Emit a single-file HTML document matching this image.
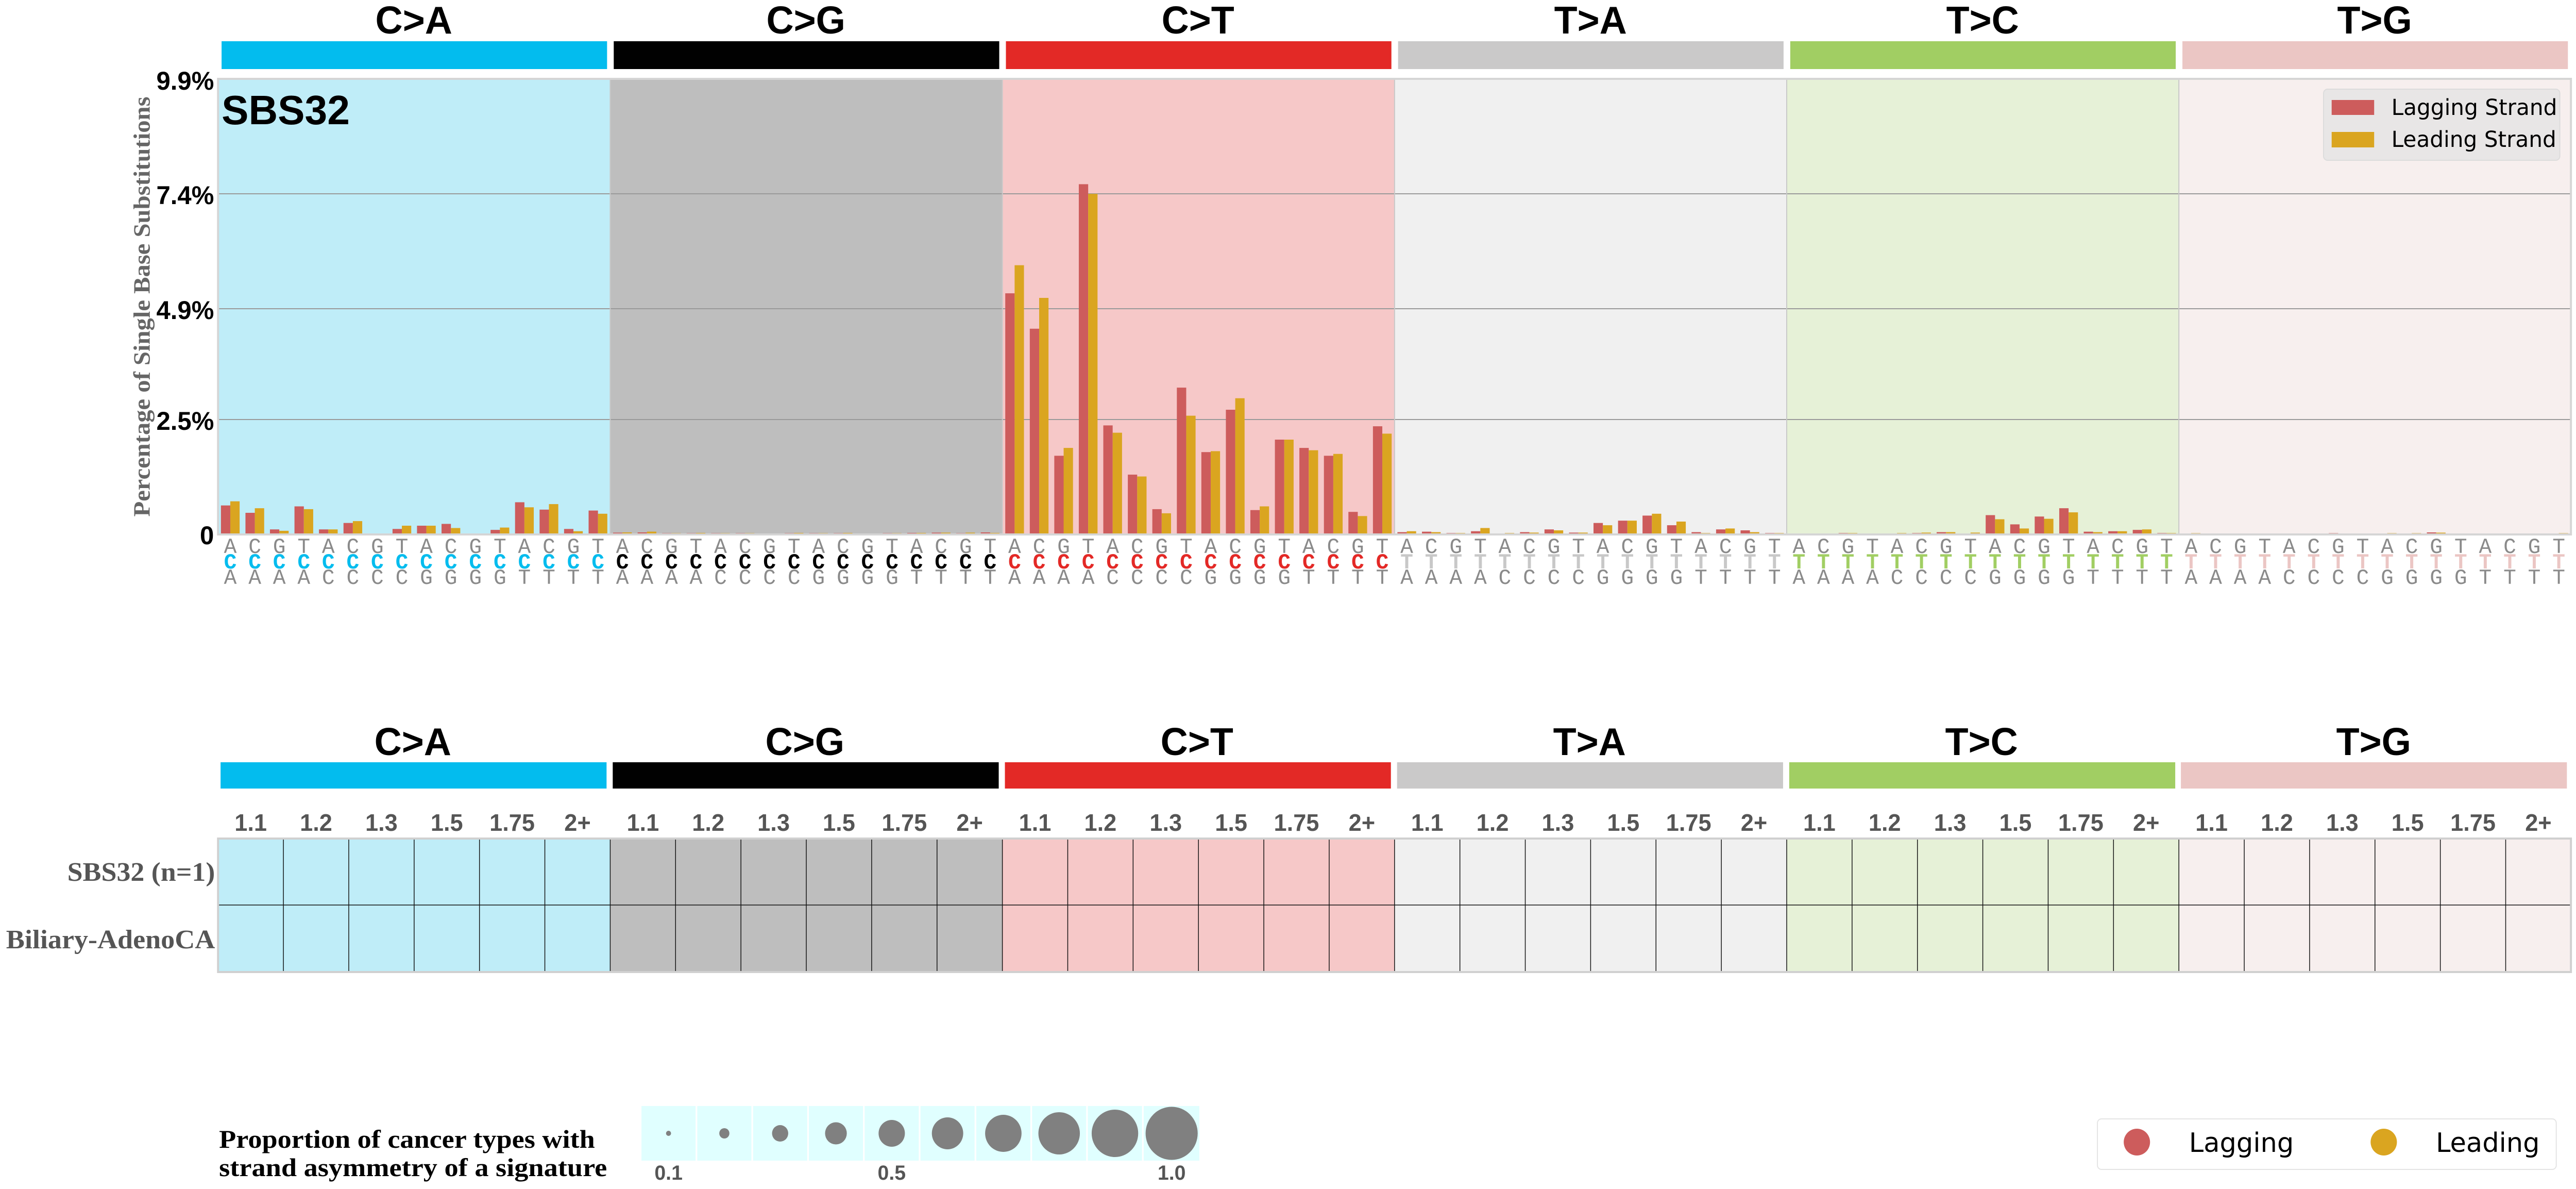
<!DOCTYPE html>
<html><head><meta charset="utf-8"><style>
html,body{margin:0;padding:0;background:#fff;overflow:hidden;width:100vw;height:100vh;}
svg{display:block;width:100vw;height:100vh;}
.m{font-weight:bold;}
.lb{font-family:"Liberation Mono","DejaVu Sans Mono",monospace;font-size:42px;fill:#8a8a8a;text-anchor:middle;}
.p0 .m{fill:#03bcee}.p1 .m{fill:#000}.p2 .m{fill:#e32926}.p3 .m{fill:#c8c8c8}.p4 .m{fill:#a1ce63}.p5 .m{fill:#ebc6c4}
.hd{font-family:"Liberation Sans",sans-serif;font-weight:bold;font-size:75px;fill:#000;text-anchor:middle;}
.yt{font-family:"Liberation Sans",sans-serif;font-weight:bold;font-size:50px;fill:#000;text-anchor:end;}
.tk{font-family:"Liberation Sans",sans-serif;font-weight:bold;font-size:46px;fill:#555;text-anchor:middle;}
.r{fill:#cd5c5c}.y{fill:#daa520}
</style></head><body>
<svg viewBox="0 0 5092 2307" preserveAspectRatio="none" xmlns="http://www.w3.org/2000/svg">
<rect width="5092" height="2307" fill="#fff"/>
<rect x="438" y="80" width="762" height="54" fill="#03bcee"/>
<rect x="1213.2" y="80" width="762" height="54" fill="#010101"/>
<rect x="1988.4" y="80" width="762" height="54" fill="#e32926"/>
<rect x="2763.6" y="80" width="762" height="54" fill="#cac9c9"/>
<rect x="3538.8" y="80" width="762" height="54" fill="#a1ce63"/>
<rect x="4314" y="80" width="762" height="54" fill="#ebc6c4"/>
<text class="hd" x="818" y="65">C&gt;A</text>
<text class="hd" x="1593" y="65">C&gt;G</text>
<text class="hd" x="2368" y="65">C&gt;T</text>
<text class="hd" x="3144" y="65">T&gt;A</text>
<text class="hd" x="3919" y="65">T&gt;C</text>
<text class="hd" x="4694" y="65">T&gt;G</text>
<rect x="431" y="153" width="775.2" height="884" fill="#bfedf8"/>
<rect x="1206.2" y="153" width="775.2" height="884" fill="#bebebe"/>
<rect x="1981.4" y="153" width="775.2" height="884" fill="#f6c8c8"/>
<rect x="2756.6" y="153" width="775.2" height="884" fill="#f0f0f0"/>
<rect x="3531.8" y="153" width="775.2" height="884" fill="#e6f1d7"/>
<rect x="4307" y="153" width="775" height="884" fill="#f7efee"/>
<path d="M431 814H5082M431 599H5082M431 376H5082" stroke="#9a9a9a" stroke-width="2"/>
<path d="M1206.2 153V1037M1981.4 153V1037M2756.6 153V1037M3531.8 153V1037M4307 153V1037" stroke="#c8c8c8" stroke-width="2"/>
<rect x="431" y="153" width="4651" height="884" fill="none" stroke="#d5d5d5" stroke-width="4"/>
<text class="yt" x="423" y="174">9.9%</text>
<text class="yt" x="423" y="396">7.4%</text>
<text class="yt" x="423" y="619">4.9%</text>
<text class="yt" x="423" y="834">2.5%</text>
<text class="yt" x="423" y="1056">0</text>
<g transform="translate(296,595) rotate(-90)"><text text-anchor="middle" textLength="815" lengthAdjust="spacingAndGlyphs" style="font-family:'Liberation Serif',serif;font-weight:bold;font-size:46px;fill:#666">Percentage of Single Base Substitutions</text></g>
<text x="438" y="241" style="font-family:'Liberation Sans',sans-serif;font-weight:bold;font-size:80px">SBS32</text>
<rect x="4593" y="173" width="467" height="138" rx="8" fill="#e8e6e6" stroke="#dcdcdc" stroke-width="2"/>
<rect x="4609" y="194" width="84" height="29" fill="#cd5c5c"/>
<rect x="4609" y="256" width="84" height="30" fill="#daa520"/>
<text x="4727" y="223" style="font-family:'DejaVu Sans',sans-serif;font-size:43px">Lagging Strand</text>
<text x="4727" y="285" style="font-family:'DejaVu Sans',sans-serif;font-size:43px">Leading Strand</text>

<g transform="translate(431,1037) scale(1,-1)">
<rect class="r" x="5.7" width="18.5" height="56.3"/><rect class="y" x="24.2" width="18.5" height="64.3"/>
<rect class="r" x="54.2" width="18.5" height="42"/><rect class="y" x="72.7" width="18.5" height="50.9"/>
<rect class="r" x="102.6" width="18.5" height="9.8"/><rect class="y" x="121.1" width="18.5" height="7.1"/>
<rect class="r" x="151.1" width="18.5" height="54.5"/><rect class="y" x="169.6" width="18.5" height="49.1"/>
<rect class="r" x="199.5" width="18.5" height="9.8"/><rect class="y" x="218" width="18.5" height="9.8"/>
<rect class="r" x="248" width="18.5" height="22.3"/><rect class="y" x="266.5" width="18.5" height="25.9"/>
<rect class="r" x="296.4" width="18.5" height="1"/><rect class="y" x="314.9" width="18.5" height="1"/>
<rect class="r" x="344.9" width="18.5" height="10.7"/><rect class="y" x="363.4" width="18.5" height="17"/>
<rect class="r" x="393.3" width="18.5" height="17"/><rect class="y" x="411.8" width="18.5" height="17"/>
<rect class="r" x="441.8" width="18.5" height="20.5"/><rect class="y" x="460.3" width="18.5" height="12.5"/>
<rect class="r" x="490.2" width="18.5" height="1.8"/><rect class="y" x="508.7" width="18.5" height="1.8"/>
<rect class="r" x="538.7" width="18.5" height="8.9"/><rect class="y" x="557.2" width="18.5" height="13.4"/>
<rect class="r" x="587.1" width="18.5" height="62.5"/><rect class="y" x="605.6" width="18.5" height="52.7"/>
<rect class="r" x="635.6" width="18.5" height="48.2"/><rect class="y" x="654.1" width="18.5" height="58.9"/>
<rect class="r" x="684" width="18.5" height="10.7"/><rect class="y" x="702.5" width="18.5" height="6.3"/>
<rect class="r" x="732.5" width="18.5" height="46.4"/><rect class="y" x="751" width="18.5" height="40.2"/>
</g>
<g transform="translate(1206.2,1037) scale(1,-1)">
<rect class="r" x="5.7" width="18.5" height="3.5"/><rect class="y" x="24.2" width="18.5" height="4"/>
<rect class="r" x="54.2" width="18.5" height="4"/><rect class="y" x="72.7" width="18.5" height="5.5"/>
<rect class="r" x="102.6" width="18.5" height="2.5"/><rect class="y" x="121.1" width="18.5" height="2.5"/>
<rect class="r" x="151.1" width="18.5" height="2.5"/><rect class="y" x="169.6" width="18.5" height="3"/>
<rect class="r" x="199.5" width="18.5" height="2.5"/><rect class="y" x="218" width="18.5" height="2.5"/>
<rect class="r" x="248" width="18.5" height="2.5"/><rect class="y" x="266.5" width="18.5" height="2.5"/>
<rect class="r" x="296.4" width="18.5" height="2"/><rect class="y" x="314.9" width="18.5" height="2"/>
<rect class="r" x="344.9" width="18.5" height="2.5"/><rect class="y" x="363.4" width="18.5" height="3"/>
<rect class="r" x="393.3" width="18.5" height="2.5"/><rect class="y" x="411.8" width="18.5" height="2.5"/>
<rect class="r" x="441.8" width="18.5" height="2.5"/><rect class="y" x="460.3" width="18.5" height="3"/>
<rect class="r" x="490.2" width="18.5" height="2"/><rect class="y" x="508.7" width="18.5" height="2"/>
<rect class="r" x="538.7" width="18.5" height="2.5"/><rect class="y" x="557.2" width="18.5" height="2.5"/>
<rect class="r" x="587.1" width="18.5" height="3"/><rect class="y" x="605.6" width="18.5" height="3"/>
<rect class="r" x="635.6" width="18.5" height="3.5"/><rect class="y" x="654.1" width="18.5" height="3.5"/>
<rect class="r" x="684" width="18.5" height="2.5"/><rect class="y" x="702.5" width="18.5" height="3.5"/>
<rect class="r" x="732.5" width="18.5" height="4"/><rect class="y" x="751" width="18.5" height="3"/>
</g>
<g transform="translate(1981.4,1037) scale(1,-1)">
<rect class="r" x="5.7" width="18.5" height="467.9"/><rect class="y" x="24.2" width="18.5" height="522.4"/>
<rect class="r" x="54.2" width="18.5" height="399.2"/><rect class="y" x="72.7" width="18.5" height="459"/>
<rect class="r" x="102.6" width="18.5" height="152.7"/><rect class="y" x="121.1" width="18.5" height="167.9"/>
<rect class="r" x="151.1" width="18.5" height="679.6"/><rect class="y" x="169.6" width="18.5" height="660.8"/>
<rect class="r" x="199.5" width="18.5" height="211.6"/><rect class="y" x="218" width="18.5" height="197.4"/>
<rect class="r" x="248" width="18.5" height="116.1"/><rect class="y" x="266.5" width="18.5" height="112.5"/>
<rect class="r" x="296.4" width="18.5" height="49.1"/><rect class="y" x="314.9" width="18.5" height="41.1"/>
<rect class="r" x="344.9" width="18.5" height="284.9"/><rect class="y" x="363.4" width="18.5" height="230.4"/>
<rect class="r" x="393.3" width="18.5" height="159.8"/><rect class="y" x="411.8" width="18.5" height="161.6"/>
<rect class="r" x="441.8" width="18.5" height="242"/><rect class="y" x="460.3" width="18.5" height="264.3"/>
<rect class="r" x="490.2" width="18.5" height="47.3"/><rect class="y" x="508.7" width="18.5" height="54.5"/>
<rect class="r" x="538.7" width="18.5" height="184"/><rect class="y" x="557.2" width="18.5" height="184"/>
<rect class="r" x="587.1" width="18.5" height="167.9"/><rect class="y" x="605.6" width="18.5" height="163.4"/>
<rect class="r" x="635.6" width="18.5" height="152.7"/><rect class="y" x="654.1" width="18.5" height="156.3"/>
<rect class="r" x="684" width="18.5" height="43.8"/><rect class="y" x="702.5" width="18.5" height="35.7"/>
<rect class="r" x="732.5" width="18.5" height="209.9"/><rect class="y" x="751" width="18.5" height="195.6"/>
</g>
<g transform="translate(2756.6,1037) scale(1,-1)">
<rect class="r" x="5.7" width="18.5" height="4.5"/><rect class="y" x="24.2" width="18.5" height="6.3"/>
<rect class="r" x="54.2" width="18.5" height="5.4"/><rect class="y" x="72.7" width="18.5" height="4.5"/>
<rect class="r" x="102.6" width="18.5" height="2.7"/><rect class="y" x="121.1" width="18.5" height="2.7"/>
<rect class="r" x="151.1" width="18.5" height="6.3"/><rect class="y" x="169.6" width="18.5" height="12.5"/>
<rect class="r" x="199.5" width="18.5" height="1.8"/><rect class="y" x="218" width="18.5" height="2.7"/>
<rect class="r" x="248" width="18.5" height="4.5"/><rect class="y" x="266.5" width="18.5" height="3.6"/>
<rect class="r" x="296.4" width="18.5" height="9.8"/><rect class="y" x="314.9" width="18.5" height="8"/>
<rect class="r" x="344.9" width="18.5" height="3.6"/><rect class="y" x="363.4" width="18.5" height="3.6"/>
<rect class="r" x="393.3" width="18.5" height="22.3"/><rect class="y" x="411.8" width="18.5" height="17.9"/>
<rect class="r" x="441.8" width="18.5" height="26.8"/><rect class="y" x="460.3" width="18.5" height="26.8"/>
<rect class="r" x="490.2" width="18.5" height="36.6"/><rect class="y" x="508.7" width="18.5" height="40.2"/>
<rect class="r" x="538.7" width="18.5" height="17.9"/><rect class="y" x="557.2" width="18.5" height="25"/>
<rect class="r" x="587.1" width="18.5" height="4.5"/><rect class="y" x="605.6" width="18.5" height="2.7"/>
<rect class="r" x="635.6" width="18.5" height="9.8"/><rect class="y" x="654.1" width="18.5" height="11.6"/>
<rect class="r" x="684" width="18.5" height="8"/><rect class="y" x="702.5" width="18.5" height="4.5"/>
<rect class="r" x="732.5" width="18.5" height="2.7"/><rect class="y" x="751" width="18.5" height="2.7"/>
</g>
<g transform="translate(3531.8,1037) scale(1,-1)">
<rect class="r" x="5.7" width="18.5" height="1.8"/><rect class="y" x="24.2" width="18.5" height="1.8"/>
<rect class="r" x="54.2" width="18.5" height="1.8"/><rect class="y" x="72.7" width="18.5" height="1.8"/>
<rect class="r" x="102.6" width="18.5" height="2.7"/><rect class="y" x="121.1" width="18.5" height="2.7"/>
<rect class="r" x="151.1" width="18.5" height="1.8"/><rect class="y" x="169.6" width="18.5" height="1.8"/>
<rect class="r" x="199.5" width="18.5" height="1.8"/><rect class="y" x="218" width="18.5" height="2.7"/>
<rect class="r" x="248" width="18.5" height="2.7"/><rect class="y" x="266.5" width="18.5" height="3.6"/>
<rect class="r" x="296.4" width="18.5" height="4.5"/><rect class="y" x="314.9" width="18.5" height="4.5"/>
<rect class="r" x="344.9" width="18.5" height="1.8"/><rect class="y" x="363.4" width="18.5" height="3.6"/>
<rect class="r" x="393.3" width="18.5" height="37.5"/><rect class="y" x="411.8" width="18.5" height="29.5"/>
<rect class="r" x="441.8" width="18.5" height="19.6"/><rect class="y" x="460.3" width="18.5" height="11.6"/>
<rect class="r" x="490.2" width="18.5" height="34.8"/><rect class="y" x="508.7" width="18.5" height="30.4"/>
<rect class="r" x="538.7" width="18.5" height="50.9"/><rect class="y" x="557.2" width="18.5" height="42.9"/>
<rect class="r" x="587.1" width="18.5" height="5.4"/><rect class="y" x="605.6" width="18.5" height="4.5"/>
<rect class="r" x="635.6" width="18.5" height="6.3"/><rect class="y" x="654.1" width="18.5" height="6.3"/>
<rect class="r" x="684" width="18.5" height="8.9"/><rect class="y" x="702.5" width="18.5" height="9.8"/>
<rect class="r" x="732.5" width="18.5" height="2.7"/><rect class="y" x="751" width="18.5" height="2.7"/>
</g>
<g transform="translate(4307,1037) scale(1,-1)">
<rect class="r" x="5.7" width="18.5" height="2"/><rect class="y" x="24.2" width="18.5" height="2.5"/>
<rect class="r" x="54.2" width="18.5" height="2"/><rect class="y" x="72.7" width="18.5" height="2"/>
<rect class="r" x="102.6" width="18.5" height="1.5"/><rect class="y" x="121.1" width="18.5" height="1.5"/>
<rect class="r" x="151.1" width="18.5" height="1.5"/><rect class="y" x="169.6" width="18.5" height="1.5"/>
<rect class="r" x="199.5" width="18.5" height="1.5"/><rect class="y" x="218" width="18.5" height="2"/>
<rect class="r" x="248" width="18.5" height="2"/><rect class="y" x="266.5" width="18.5" height="2"/>
<rect class="r" x="296.4" width="18.5" height="2.5"/><rect class="y" x="314.9" width="18.5" height="2"/>
<rect class="r" x="344.9" width="18.5" height="2"/><rect class="y" x="363.4" width="18.5" height="2"/>
<rect class="r" x="393.3" width="18.5" height="2"/><rect class="y" x="411.8" width="18.5" height="2.5"/>
<rect class="r" x="441.8" width="18.5" height="2"/><rect class="y" x="460.3" width="18.5" height="2.5"/>
<rect class="r" x="490.2" width="18.5" height="4"/><rect class="y" x="508.7" width="18.5" height="3.5"/>
<rect class="r" x="538.7" width="18.5" height="2"/><rect class="y" x="557.2" width="18.5" height="2"/>
<rect class="r" x="587.1" width="18.5" height="1.5"/><rect class="y" x="605.6" width="18.5" height="1.5"/>
<rect class="r" x="635.6" width="18.5" height="1.5"/><rect class="y" x="654.1" width="18.5" height="1.5"/>
<rect class="r" x="684" width="18.5" height="1.5"/><rect class="y" x="702.5" width="18.5" height="2"/>
<rect class="r" x="732.5" width="18.5" height="2"/><rect class="y" x="751" width="18.5" height="2.5"/>
</g>
<path d="M431 1037H5082" stroke="#d5d5d5" stroke-width="4"/>

<g class="lb p0" transform="translate(431,0)">
<text y="1133"><tspan x="24.2">A</tspan><tspan x="24.2" dy="-30" class="m">C</tspan><tspan x="24.2" dy="-30">A</tspan></text>
<text y="1133"><tspan x="72.7">A</tspan><tspan x="72.7" dy="-30" class="m">C</tspan><tspan x="72.7" dy="-30">C</tspan></text>
<text y="1133"><tspan x="121.1">A</tspan><tspan x="121.1" dy="-30" class="m">C</tspan><tspan x="121.1" dy="-30">G</tspan></text>
<text y="1133"><tspan x="169.6">A</tspan><tspan x="169.6" dy="-30" class="m">C</tspan><tspan x="169.6" dy="-30">T</tspan></text>
<text y="1133"><tspan x="218">C</tspan><tspan x="218" dy="-30" class="m">C</tspan><tspan x="218" dy="-30">A</tspan></text>
<text y="1133"><tspan x="266.5">C</tspan><tspan x="266.5" dy="-30" class="m">C</tspan><tspan x="266.5" dy="-30">C</tspan></text>
<text y="1133"><tspan x="314.9">C</tspan><tspan x="314.9" dy="-30" class="m">C</tspan><tspan x="314.9" dy="-30">G</tspan></text>
<text y="1133"><tspan x="363.4">C</tspan><tspan x="363.4" dy="-30" class="m">C</tspan><tspan x="363.4" dy="-30">T</tspan></text>
<text y="1133"><tspan x="411.8">G</tspan><tspan x="411.8" dy="-30" class="m">C</tspan><tspan x="411.8" dy="-30">A</tspan></text>
<text y="1133"><tspan x="460.3">G</tspan><tspan x="460.3" dy="-30" class="m">C</tspan><tspan x="460.3" dy="-30">C</tspan></text>
<text y="1133"><tspan x="508.7">G</tspan><tspan x="508.7" dy="-30" class="m">C</tspan><tspan x="508.7" dy="-30">G</tspan></text>
<text y="1133"><tspan x="557.2">G</tspan><tspan x="557.2" dy="-30" class="m">C</tspan><tspan x="557.2" dy="-30">T</tspan></text>
<text y="1133"><tspan x="605.6">T</tspan><tspan x="605.6" dy="-30" class="m">C</tspan><tspan x="605.6" dy="-30">A</tspan></text>
<text y="1133"><tspan x="654.1">T</tspan><tspan x="654.1" dy="-30" class="m">C</tspan><tspan x="654.1" dy="-30">C</tspan></text>
<text y="1133"><tspan x="702.5">T</tspan><tspan x="702.5" dy="-30" class="m">C</tspan><tspan x="702.5" dy="-30">G</tspan></text>
<text y="1133"><tspan x="751">T</tspan><tspan x="751" dy="-30" class="m">C</tspan><tspan x="751" dy="-30">T</tspan></text>
</g>
<g class="lb p1" transform="translate(1206.2,0)">
<text y="1133"><tspan x="24.2">A</tspan><tspan x="24.2" dy="-30" class="m">C</tspan><tspan x="24.2" dy="-30">A</tspan></text>
<text y="1133"><tspan x="72.7">A</tspan><tspan x="72.7" dy="-30" class="m">C</tspan><tspan x="72.7" dy="-30">C</tspan></text>
<text y="1133"><tspan x="121.1">A</tspan><tspan x="121.1" dy="-30" class="m">C</tspan><tspan x="121.1" dy="-30">G</tspan></text>
<text y="1133"><tspan x="169.6">A</tspan><tspan x="169.6" dy="-30" class="m">C</tspan><tspan x="169.6" dy="-30">T</tspan></text>
<text y="1133"><tspan x="218">C</tspan><tspan x="218" dy="-30" class="m">C</tspan><tspan x="218" dy="-30">A</tspan></text>
<text y="1133"><tspan x="266.5">C</tspan><tspan x="266.5" dy="-30" class="m">C</tspan><tspan x="266.5" dy="-30">C</tspan></text>
<text y="1133"><tspan x="314.9">C</tspan><tspan x="314.9" dy="-30" class="m">C</tspan><tspan x="314.9" dy="-30">G</tspan></text>
<text y="1133"><tspan x="363.4">C</tspan><tspan x="363.4" dy="-30" class="m">C</tspan><tspan x="363.4" dy="-30">T</tspan></text>
<text y="1133"><tspan x="411.8">G</tspan><tspan x="411.8" dy="-30" class="m">C</tspan><tspan x="411.8" dy="-30">A</tspan></text>
<text y="1133"><tspan x="460.3">G</tspan><tspan x="460.3" dy="-30" class="m">C</tspan><tspan x="460.3" dy="-30">C</tspan></text>
<text y="1133"><tspan x="508.7">G</tspan><tspan x="508.7" dy="-30" class="m">C</tspan><tspan x="508.7" dy="-30">G</tspan></text>
<text y="1133"><tspan x="557.2">G</tspan><tspan x="557.2" dy="-30" class="m">C</tspan><tspan x="557.2" dy="-30">T</tspan></text>
<text y="1133"><tspan x="605.6">T</tspan><tspan x="605.6" dy="-30" class="m">C</tspan><tspan x="605.6" dy="-30">A</tspan></text>
<text y="1133"><tspan x="654.1">T</tspan><tspan x="654.1" dy="-30" class="m">C</tspan><tspan x="654.1" dy="-30">C</tspan></text>
<text y="1133"><tspan x="702.5">T</tspan><tspan x="702.5" dy="-30" class="m">C</tspan><tspan x="702.5" dy="-30">G</tspan></text>
<text y="1133"><tspan x="751">T</tspan><tspan x="751" dy="-30" class="m">C</tspan><tspan x="751" dy="-30">T</tspan></text>
</g>
<g class="lb p2" transform="translate(1981.4,0)">
<text y="1133"><tspan x="24.2">A</tspan><tspan x="24.2" dy="-30" class="m">C</tspan><tspan x="24.2" dy="-30">A</tspan></text>
<text y="1133"><tspan x="72.7">A</tspan><tspan x="72.7" dy="-30" class="m">C</tspan><tspan x="72.7" dy="-30">C</tspan></text>
<text y="1133"><tspan x="121.1">A</tspan><tspan x="121.1" dy="-30" class="m">C</tspan><tspan x="121.1" dy="-30">G</tspan></text>
<text y="1133"><tspan x="169.6">A</tspan><tspan x="169.6" dy="-30" class="m">C</tspan><tspan x="169.6" dy="-30">T</tspan></text>
<text y="1133"><tspan x="218">C</tspan><tspan x="218" dy="-30" class="m">C</tspan><tspan x="218" dy="-30">A</tspan></text>
<text y="1133"><tspan x="266.5">C</tspan><tspan x="266.5" dy="-30" class="m">C</tspan><tspan x="266.5" dy="-30">C</tspan></text>
<text y="1133"><tspan x="314.9">C</tspan><tspan x="314.9" dy="-30" class="m">C</tspan><tspan x="314.9" dy="-30">G</tspan></text>
<text y="1133"><tspan x="363.4">C</tspan><tspan x="363.4" dy="-30" class="m">C</tspan><tspan x="363.4" dy="-30">T</tspan></text>
<text y="1133"><tspan x="411.8">G</tspan><tspan x="411.8" dy="-30" class="m">C</tspan><tspan x="411.8" dy="-30">A</tspan></text>
<text y="1133"><tspan x="460.3">G</tspan><tspan x="460.3" dy="-30" class="m">C</tspan><tspan x="460.3" dy="-30">C</tspan></text>
<text y="1133"><tspan x="508.7">G</tspan><tspan x="508.7" dy="-30" class="m">C</tspan><tspan x="508.7" dy="-30">G</tspan></text>
<text y="1133"><tspan x="557.2">G</tspan><tspan x="557.2" dy="-30" class="m">C</tspan><tspan x="557.2" dy="-30">T</tspan></text>
<text y="1133"><tspan x="605.6">T</tspan><tspan x="605.6" dy="-30" class="m">C</tspan><tspan x="605.6" dy="-30">A</tspan></text>
<text y="1133"><tspan x="654.1">T</tspan><tspan x="654.1" dy="-30" class="m">C</tspan><tspan x="654.1" dy="-30">C</tspan></text>
<text y="1133"><tspan x="702.5">T</tspan><tspan x="702.5" dy="-30" class="m">C</tspan><tspan x="702.5" dy="-30">G</tspan></text>
<text y="1133"><tspan x="751">T</tspan><tspan x="751" dy="-30" class="m">C</tspan><tspan x="751" dy="-30">T</tspan></text>
</g>
<g class="lb p3" transform="translate(2756.6,0)">
<text y="1133"><tspan x="24.2">A</tspan><tspan x="24.2" dy="-30" class="m">T</tspan><tspan x="24.2" dy="-30">A</tspan></text>
<text y="1133"><tspan x="72.7">A</tspan><tspan x="72.7" dy="-30" class="m">T</tspan><tspan x="72.7" dy="-30">C</tspan></text>
<text y="1133"><tspan x="121.1">A</tspan><tspan x="121.1" dy="-30" class="m">T</tspan><tspan x="121.1" dy="-30">G</tspan></text>
<text y="1133"><tspan x="169.6">A</tspan><tspan x="169.6" dy="-30" class="m">T</tspan><tspan x="169.6" dy="-30">T</tspan></text>
<text y="1133"><tspan x="218">C</tspan><tspan x="218" dy="-30" class="m">T</tspan><tspan x="218" dy="-30">A</tspan></text>
<text y="1133"><tspan x="266.5">C</tspan><tspan x="266.5" dy="-30" class="m">T</tspan><tspan x="266.5" dy="-30">C</tspan></text>
<text y="1133"><tspan x="314.9">C</tspan><tspan x="314.9" dy="-30" class="m">T</tspan><tspan x="314.9" dy="-30">G</tspan></text>
<text y="1133"><tspan x="363.4">C</tspan><tspan x="363.4" dy="-30" class="m">T</tspan><tspan x="363.4" dy="-30">T</tspan></text>
<text y="1133"><tspan x="411.8">G</tspan><tspan x="411.8" dy="-30" class="m">T</tspan><tspan x="411.8" dy="-30">A</tspan></text>
<text y="1133"><tspan x="460.3">G</tspan><tspan x="460.3" dy="-30" class="m">T</tspan><tspan x="460.3" dy="-30">C</tspan></text>
<text y="1133"><tspan x="508.7">G</tspan><tspan x="508.7" dy="-30" class="m">T</tspan><tspan x="508.7" dy="-30">G</tspan></text>
<text y="1133"><tspan x="557.2">G</tspan><tspan x="557.2" dy="-30" class="m">T</tspan><tspan x="557.2" dy="-30">T</tspan></text>
<text y="1133"><tspan x="605.6">T</tspan><tspan x="605.6" dy="-30" class="m">T</tspan><tspan x="605.6" dy="-30">A</tspan></text>
<text y="1133"><tspan x="654.1">T</tspan><tspan x="654.1" dy="-30" class="m">T</tspan><tspan x="654.1" dy="-30">C</tspan></text>
<text y="1133"><tspan x="702.5">T</tspan><tspan x="702.5" dy="-30" class="m">T</tspan><tspan x="702.5" dy="-30">G</tspan></text>
<text y="1133"><tspan x="751">T</tspan><tspan x="751" dy="-30" class="m">T</tspan><tspan x="751" dy="-30">T</tspan></text>
</g>
<g class="lb p4" transform="translate(3531.8,0)">
<text y="1133"><tspan x="24.2">A</tspan><tspan x="24.2" dy="-30" class="m">T</tspan><tspan x="24.2" dy="-30">A</tspan></text>
<text y="1133"><tspan x="72.7">A</tspan><tspan x="72.7" dy="-30" class="m">T</tspan><tspan x="72.7" dy="-30">C</tspan></text>
<text y="1133"><tspan x="121.1">A</tspan><tspan x="121.1" dy="-30" class="m">T</tspan><tspan x="121.1" dy="-30">G</tspan></text>
<text y="1133"><tspan x="169.6">A</tspan><tspan x="169.6" dy="-30" class="m">T</tspan><tspan x="169.6" dy="-30">T</tspan></text>
<text y="1133"><tspan x="218">C</tspan><tspan x="218" dy="-30" class="m">T</tspan><tspan x="218" dy="-30">A</tspan></text>
<text y="1133"><tspan x="266.5">C</tspan><tspan x="266.5" dy="-30" class="m">T</tspan><tspan x="266.5" dy="-30">C</tspan></text>
<text y="1133"><tspan x="314.9">C</tspan><tspan x="314.9" dy="-30" class="m">T</tspan><tspan x="314.9" dy="-30">G</tspan></text>
<text y="1133"><tspan x="363.4">C</tspan><tspan x="363.4" dy="-30" class="m">T</tspan><tspan x="363.4" dy="-30">T</tspan></text>
<text y="1133"><tspan x="411.8">G</tspan><tspan x="411.8" dy="-30" class="m">T</tspan><tspan x="411.8" dy="-30">A</tspan></text>
<text y="1133"><tspan x="460.3">G</tspan><tspan x="460.3" dy="-30" class="m">T</tspan><tspan x="460.3" dy="-30">C</tspan></text>
<text y="1133"><tspan x="508.7">G</tspan><tspan x="508.7" dy="-30" class="m">T</tspan><tspan x="508.7" dy="-30">G</tspan></text>
<text y="1133"><tspan x="557.2">G</tspan><tspan x="557.2" dy="-30" class="m">T</tspan><tspan x="557.2" dy="-30">T</tspan></text>
<text y="1133"><tspan x="605.6">T</tspan><tspan x="605.6" dy="-30" class="m">T</tspan><tspan x="605.6" dy="-30">A</tspan></text>
<text y="1133"><tspan x="654.1">T</tspan><tspan x="654.1" dy="-30" class="m">T</tspan><tspan x="654.1" dy="-30">C</tspan></text>
<text y="1133"><tspan x="702.5">T</tspan><tspan x="702.5" dy="-30" class="m">T</tspan><tspan x="702.5" dy="-30">G</tspan></text>
<text y="1133"><tspan x="751">T</tspan><tspan x="751" dy="-30" class="m">T</tspan><tspan x="751" dy="-30">T</tspan></text>
</g>
<g class="lb p5" transform="translate(4307,0)">
<text y="1133"><tspan x="24.2">A</tspan><tspan x="24.2" dy="-30" class="m">T</tspan><tspan x="24.2" dy="-30">A</tspan></text>
<text y="1133"><tspan x="72.7">A</tspan><tspan x="72.7" dy="-30" class="m">T</tspan><tspan x="72.7" dy="-30">C</tspan></text>
<text y="1133"><tspan x="121.1">A</tspan><tspan x="121.1" dy="-30" class="m">T</tspan><tspan x="121.1" dy="-30">G</tspan></text>
<text y="1133"><tspan x="169.6">A</tspan><tspan x="169.6" dy="-30" class="m">T</tspan><tspan x="169.6" dy="-30">T</tspan></text>
<text y="1133"><tspan x="218">C</tspan><tspan x="218" dy="-30" class="m">T</tspan><tspan x="218" dy="-30">A</tspan></text>
<text y="1133"><tspan x="266.5">C</tspan><tspan x="266.5" dy="-30" class="m">T</tspan><tspan x="266.5" dy="-30">C</tspan></text>
<text y="1133"><tspan x="314.9">C</tspan><tspan x="314.9" dy="-30" class="m">T</tspan><tspan x="314.9" dy="-30">G</tspan></text>
<text y="1133"><tspan x="363.4">C</tspan><tspan x="363.4" dy="-30" class="m">T</tspan><tspan x="363.4" dy="-30">T</tspan></text>
<text y="1133"><tspan x="411.8">G</tspan><tspan x="411.8" dy="-30" class="m">T</tspan><tspan x="411.8" dy="-30">A</tspan></text>
<text y="1133"><tspan x="460.3">G</tspan><tspan x="460.3" dy="-30" class="m">T</tspan><tspan x="460.3" dy="-30">C</tspan></text>
<text y="1133"><tspan x="508.7">G</tspan><tspan x="508.7" dy="-30" class="m">T</tspan><tspan x="508.7" dy="-30">G</tspan></text>
<text y="1133"><tspan x="557.2">G</tspan><tspan x="557.2" dy="-30" class="m">T</tspan><tspan x="557.2" dy="-30">T</tspan></text>
<text y="1133"><tspan x="605.6">T</tspan><tspan x="605.6" dy="-30" class="m">T</tspan><tspan x="605.6" dy="-30">A</tspan></text>
<text y="1133"><tspan x="654.1">T</tspan><tspan x="654.1" dy="-30" class="m">T</tspan><tspan x="654.1" dy="-30">C</tspan></text>
<text y="1133"><tspan x="702.5">T</tspan><tspan x="702.5" dy="-30" class="m">T</tspan><tspan x="702.5" dy="-30">G</tspan></text>
<text y="1133"><tspan x="751">T</tspan><tspan x="751" dy="-30" class="m">T</tspan><tspan x="751" dy="-30">T</tspan></text>
</g>

<rect x="436" y="1479" width="763" height="51" fill="#03bcee"/>
<rect x="1211.2" y="1479" width="763" height="51" fill="#010101"/>
<rect x="1986.4" y="1479" width="763" height="51" fill="#e32926"/>
<rect x="2761.6" y="1479" width="763" height="51" fill="#cac9c9"/>
<rect x="3536.8" y="1479" width="763" height="51" fill="#a1ce63"/>
<rect x="4311" y="1479" width="763" height="51" fill="#ebc6c4"/>
<text class="hd" x="816" y="1465">C&gt;A</text>
<text class="hd" x="1591" y="1465">C&gt;G</text>
<text class="hd" x="2366" y="1465">C&gt;T</text>
<text class="hd" x="3142" y="1465">T&gt;A</text>
<text class="hd" x="3917" y="1465">T&gt;C</text>
<text class="hd" x="4692" y="1465">T&gt;G</text>
<g class="tk">
<g transform="translate(431,1612)"><text x="64.6">1.1</text><text x="193.8">1.2</text><text x="323">1.3</text><text x="452.2">1.5</text><text x="581.4">1.75</text><text x="710.6">2+</text></g>
<g transform="translate(1206.2,1612)"><text x="64.6">1.1</text><text x="193.8">1.2</text><text x="323">1.3</text><text x="452.2">1.5</text><text x="581.4">1.75</text><text x="710.6">2+</text></g>
<g transform="translate(1981.4,1612)"><text x="64.6">1.1</text><text x="193.8">1.2</text><text x="323">1.3</text><text x="452.2">1.5</text><text x="581.4">1.75</text><text x="710.6">2+</text></g>
<g transform="translate(2756.6,1612)"><text x="64.6">1.1</text><text x="193.8">1.2</text><text x="323">1.3</text><text x="452.2">1.5</text><text x="581.4">1.75</text><text x="710.6">2+</text></g>
<g transform="translate(3531.8,1612)"><text x="64.6">1.1</text><text x="193.8">1.2</text><text x="323">1.3</text><text x="452.2">1.5</text><text x="581.4">1.75</text><text x="710.6">2+</text></g>
<g transform="translate(4307,1612)"><text x="64.6">1.1</text><text x="193.8">1.2</text><text x="323">1.3</text><text x="452.2">1.5</text><text x="581.4">1.75</text><text x="710.6">2+</text></g>
</g>
<rect x="431" y="1627" width="775.2" height="259" fill="#bfedf8"/>
<rect x="1206.2" y="1627" width="775.2" height="259" fill="#bebebe"/>
<rect x="1981.4" y="1627" width="775.2" height="259" fill="#f6c8c8"/>
<rect x="2756.6" y="1627" width="775.2" height="259" fill="#f0f0f0"/>
<rect x="3531.8" y="1627" width="775.2" height="259" fill="#e6f1d7"/>
<rect x="4307" y="1627" width="775" height="259" fill="#f7efee"/>
<path d="M431 1756H5082M560.2 1627V1886M689.4 1627V1886M818.6 1627V1886M947.8 1627V1886M1077 1627V1886M1206.2 1627V1886M1335.4 1627V1886M1464.6 1627V1886M1593.8 1627V1886M1723 1627V1886M1852.2 1627V1886M1981.4 1627V1886M2110.6 1627V1886M2239.8 1627V1886M2369 1627V1886M2498.2 1627V1886M2627.4 1627V1886M2756.6 1627V1886M2885.8 1627V1886M3015 1627V1886M3144.2 1627V1886M3273.4 1627V1886M3402.6 1627V1886M3531.8 1627V1886M3661 1627V1886M3790.2 1627V1886M3919.4 1627V1886M4048.6 1627V1886M4177.8 1627V1886M4307 1627V1886M4436.2 1627V1886M4565.4 1627V1886M4694.6 1627V1886M4823.8 1627V1886M4953 1627V1886" stroke="#111" stroke-width="1.5"/>
<rect x="431" y="1627" width="4651" height="259" fill="none" stroke="#d0d0d0" stroke-width="4"/>
<text x="425" y="1709" text-anchor="end" textLength="292" lengthAdjust="spacingAndGlyphs" style="font-family:'Liberation Serif',serif;font-weight:bold;font-size:52px;fill:#555">SBS32 (n=1)</text>
<text x="425" y="1840" text-anchor="end" textLength="413" lengthAdjust="spacingAndGlyphs" style="font-family:'Liberation Serif',serif;font-weight:bold;font-size:52px;fill:#555">Biliary-AdenoCA</text>

<text x="433" y="2227" textLength="743" lengthAdjust="spacingAndGlyphs" style="font-family:'Liberation Serif',serif;font-weight:bold;font-size:50px;fill:#000">Proportion of cancer types with</text>
<text x="433" y="2282" textLength="767" lengthAdjust="spacingAndGlyphs" style="font-family:'Liberation Serif',serif;font-weight:bold;font-size:50px;fill:#000">strand asymmetry of a signature</text>
<g fill="#e0ffff">
<rect x="1268" y="2146" width="107" height="106"/><rect x="1378.3" y="2146" width="107" height="106"/><rect x="1488.6" y="2146" width="107" height="106"/><rect x="1598.9" y="2146" width="107" height="106"/><rect x="1709.2" y="2146" width="107" height="106"/><rect x="1819.5" y="2146" width="107" height="106"/><rect x="1929.8" y="2146" width="107" height="106"/><rect x="2040.1" y="2146" width="107" height="106"/><rect x="2150.4" y="2146" width="107" height="106"/><rect x="2260.7" y="2146" width="110" height="106"/>
</g>
<g fill="#808080">
<circle cx="1321.5" cy="2199" r="5"/><circle cx="1431.8" cy="2199" r="10"/><circle cx="1542.1" cy="2199" r="16"/><circle cx="1652.4" cy="2199" r="21.5"/><circle cx="1762.7" cy="2199" r="26"/><circle cx="1873" cy="2199" r="31"/><circle cx="1983.3" cy="2199" r="36"/><circle cx="2093.6" cy="2199" r="41"/><circle cx="2203.9" cy="2199" r="46"/><circle cx="2316" cy="2199" r="51.5"/>
</g>
<g style="font-family:'Liberation Sans',sans-serif;font-weight:bold;font-size:40px;fill:#555" text-anchor="middle">
<text x="1321.5" y="2289">0.1</text><text x="1762.7" y="2289">0.5</text><text x="2316" y="2289">1.0</text>
</g>
<rect x="4146" y="2171" width="907" height="98" rx="8" fill="#fff" stroke="#e4e4e4" stroke-width="2"/>
<circle cx="4224" cy="2216" r="26" fill="#cd5c5c"/>
<circle cx="4712" cy="2216" r="26" fill="#daa520"/>
<text x="4327" y="2235" style="font-family:'DejaVu Sans',sans-serif;font-size:52px">Lagging</text>
<text x="4815" y="2235" style="font-family:'DejaVu Sans',sans-serif;font-size:52px">Leading</text>
</svg>
</body></html>
